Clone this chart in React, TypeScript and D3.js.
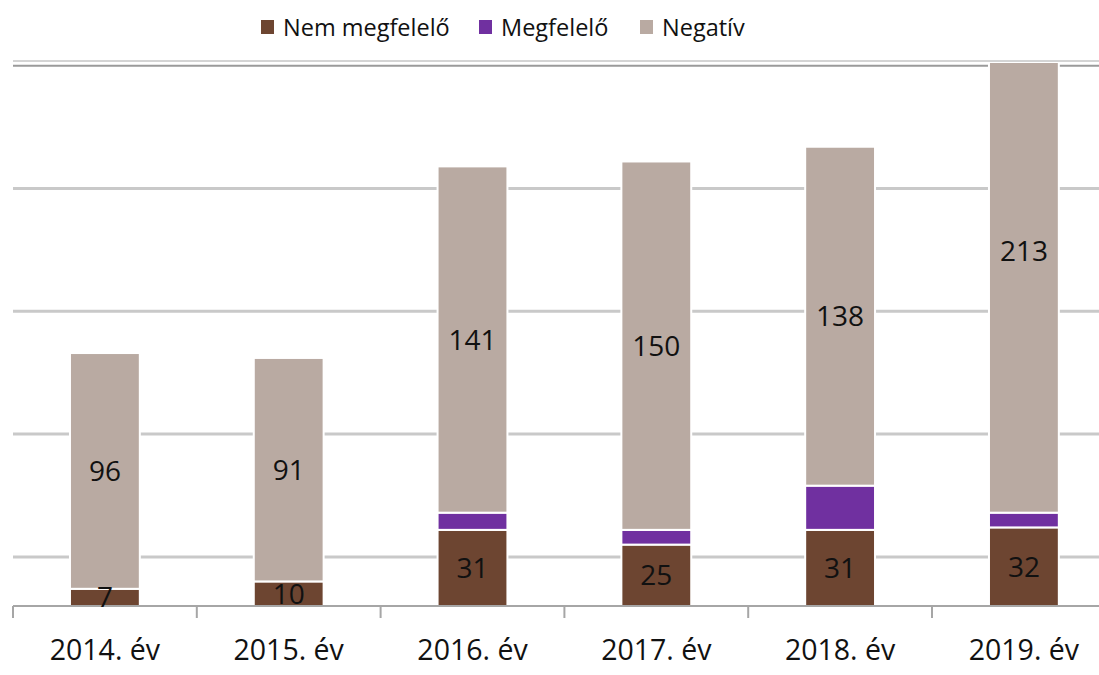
import React from "react";
import { scaleBand, scaleLinear, stack } from "d3";

const categories = ["2014. év", "2015. év", "2016. év", "2017. év", "2018. év", "2019. év"];
const nemMegfelelo = [7, 10, 31, 25, 31, 32];
const megfelelo = [0, 0, 7, 6, 18, 6];
const negativ = [96, 91, 141, 150, 138, 213];
const seriesNames = ["Nem megfelelő", "Megfelelő", "Negatív"];
const seriesColors = ["#6D4531", "#7030A0", "#B9AAA2"];
const gridValues = [20, 70, 120, 170, 220];

const W = 1099;
const H = 675;
const FONT = "'Open Sans', 'Noto Sans', sans-serif";

export default function App() {
  const rows = categories.map((c, i) => ({
    cat: c,
    s0: nemMegfelelo[i],
    s1: megfelelo[i],
    s2: negativ[i],
  }));
  const stacked = stack<any>().keys(["s0", "s1", "s2"])(rows);

  const left = 13;
  const step = 183.8;
  const x = scaleBand()
    .domain(categories)
    .range([left, left + step * categories.length])
    .paddingInner(0.62)
    .paddingOuter(0.31);

  const y = scaleLinear().domain([0, 220]).range([606, 65.7]);
  const plotTop = y(221.1);

  // legend item positions (layout only)
  const legendX = [261, 479, 640];

  return (
    <svg
      width={W}
      height={H}
      style={{ position: "absolute", left: 0, top: 0, background: "#fff" }}
      fontFamily={FONT}
    >
      <defs>
        <clipPath id="plot-clip">
          <rect x={0} y={plotTop} width={W} height={606 - plotTop + 2} />
        </clipPath>
      </defs>

      {/* Legend */}
      {seriesNames.map((name, i) => (
        <g key={name} transform={`translate(${legendX[i]},0)`}>
          <rect x={0} y={20} width={13} height={14} fill={seriesColors[i]} />
          <text x={22} y={36} fontSize={23.5} fill="#111">
            {name}
          </text>
        </g>
      ))}

      {/* top border */}
      <line x1={left} x2={W} y1={61} y2={61} stroke="#D4D4D4" strokeWidth={2} />

      {/* Grid lines */}
      {gridValues.map((v) => (
        <line
          key={v}
          x1={left}
          x2={W}
          y1={y(v)}
          y2={y(v)}
          stroke={v === 220 ? "#9A9A9A" : "#C9C9C9"}
          strokeWidth={v === 220 ? 2 : 3}
        />
      ))}

      {/* Bars */}
      <g clipPath="url(#plot-clip)">
        {stacked.map((layer, si) =>
          layer.map((d, i) => {
            const h = y(d[0]) - y(d[1]);
            if (h <= 0) return null;
            return (
              <rect
                key={`${si}-${i}`}
                x={x(categories[i])!}
                y={y(d[1])}
                width={x.bandwidth()}
                height={h}
                fill={seriesColors[si]}
                stroke="#fff"
                strokeWidth={2}
              />
            );
          }),
        )}
      </g>

      {/* X axis */}
      <line x1={left} x2={W} y1={606} y2={606} stroke="#A6A6A6" strokeWidth={2} />
      {categories.map((c, i) => {
        const tx = left + step * i;
        return (
          <line key={c} x1={tx} x2={tx} y1={606} y2={618} stroke="#A6A6A6" strokeWidth={2} />
        );
      })}
      {categories.map((c) => (
        <text
          key={c}
          x={x(c)! + x.bandwidth() / 2}
          y={660}
          textAnchor="middle"
          fontSize={28.5}
          fill="#111"
        >
          {c}
        </text>
      ))}

      {/* Value labels (centred on the full segment, even where clipped) */}
      {[0, 2].map((si) =>
        stacked[si].map((d, i) => {
          const v = d[1] - d[0];
          const cy = (y(d[0]) + y(d[1])) / 2;
          return (
            <text
              key={`l${si}-${i}`}
              x={x(categories[i])! + x.bandwidth() / 2}
              y={cy}
              dy="0.36em"
              textAnchor="middle"
              fontSize={28}
              fill="#111"
            >
              {v}
            </text>
          );
        }),
      )}
    </svg>
  );
}
